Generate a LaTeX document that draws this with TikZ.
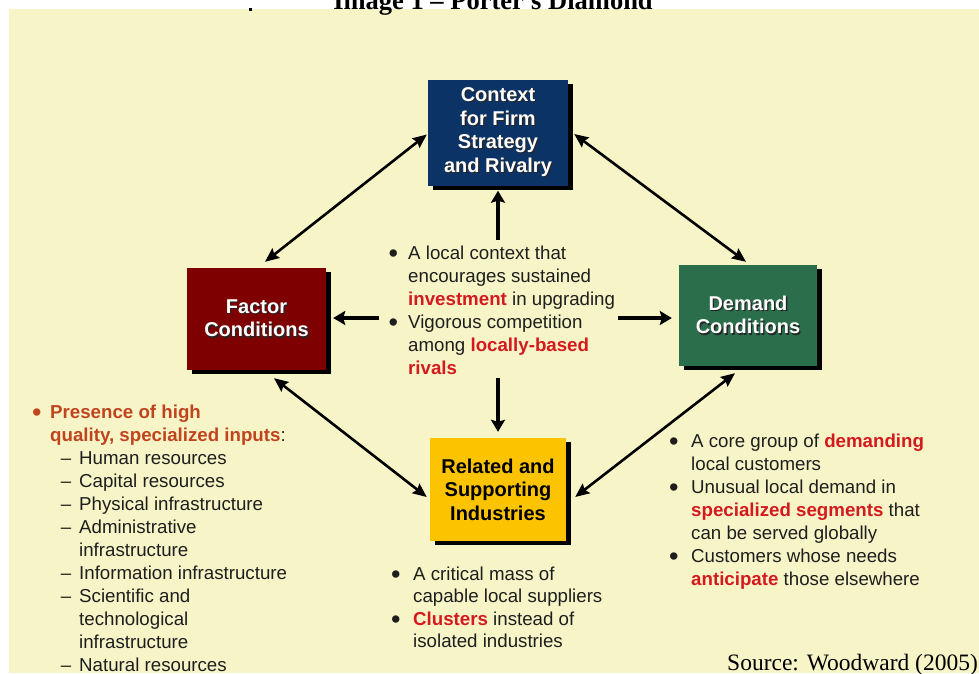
\documentclass[tikz,border=0pt]{standalone}
\usepackage{fontspec}
\setmainfont{Liberation Sans}
\newfontfamily\timesfont{Liberation Serif}
\usetikzlibrary{arrows.meta,shadows,calc}

\definecolor{paper}{HTML}{F7F5C7}
\definecolor{ctxblue}{HTML}{0C3366}
\definecolor{facred}{HTML}{7E0000}
\definecolor{demgreen}{HTML}{2A6E4C}
\definecolor{relyellow}{HTML}{FCC400}
\definecolor{hired}{HTML}{D41A1F}
\definecolor{orred}{HTML}{C0441E}
\definecolor{ink}{HTML}{1E1E1E}

% white label with a dark offset copy behind it
\newcommand\shd[1]{\leavevmode\rlap{\kern1.3pt\raisebox{-1.3pt}{\color{black!85}#1}}#1}
\newcommand\redb[1]{\textbf{\color{hired}#1}}
\newcommand\orb[1]{\textbf{\color{orred}#1}}
% a larger bullet hung to the left of the line
\newcommand\bigdot{\raisebox{-3.6pt}{\scalebox{1.45}{•}}}
\newcommand\bul[1]{\llap{\bigdot\hspace{#1}}}
\newcommand\subd{\hspace*{29pt}\llap{–\hspace{8pt}}}

\tikzset{
  box/.style={rectangle, inner sep=0pt, align=center,
    font=\fontsize{20}{23.5}\selectfont\bfseries,
    drop shadow={shadow xshift=5pt, shadow yshift=-4pt, fill=black, opacity=1}},
  txt/.style={anchor=north west, inner sep=0pt, align=left, text=ink,
    font=\fontsize{18.7}{23}\selectfont},
  arr/.style={line width=4pt, -{Stealth[length=12pt,width=14pt,inset=2pt]}},
  darr/.style={line width=2.6pt,
    {Stealth[length=14pt,width=12pt,inset=2pt]}-{Stealth[length=14pt,width=12pt,inset=2pt]}}
}

\begin{document}
\begin{tikzpicture}[x=1pt,y=-1pt]
\useasboundingbox (0,0) rectangle (979,673);
\fill[white] (0,0) rectangle (979,673);
\fill[paper] (9,9) rectangle (979,673);
\fill[black] (248.5,7.5) rectangle (251.5,10.5);

\node[font=\timesfont\bfseries\fontsize{26.5}{30}\selectfont, anchor=base, inner sep=0pt]
  (title) at (493,9) {Image 1 – Porter's Diamond};

% the four corners of the diamond
\node[box, fill=ctxblue, text=white, minimum width=140pt, minimum height=106pt]
  (ctx) at (498,132.5) {\shd{Context}\\\shd{for Firm}\\\shd{Strategy}\\\shd{and Rivalry}};
\node[box, fill=facred, text=white, minimum width=139pt, minimum height=102pt]
  (fac) at (256.5,319) {\shd{Factor}\\\shd{Conditions}};
\node[box, fill=demgreen, text=white, minimum width=138pt, minimum height=101pt]
  (dem) at (748,315.5) {\shd{Demand}\\\shd{Conditions}};
\node[box, fill=relyellow, text=black, minimum width=136pt, minimum height=103pt]
  (rel) at (498,489.5) {Related and\\Supporting\\Industries};

% bullet texts
\node[txt] (ctr) at (408,244) {\rule{0pt}{15pt}\bul{10pt}A local context that\\
  encourages sustained\\
  \redb{investment} in upgrading\\
  \bul{10pt}Vigorous competition\\
  among \redb{locally-based}\\
  \redb{rivals}};

\node[txt] (factxt) at (50,403) {\rule{0pt}{15pt}\llap{\color{orred}\bigdot\hspace{8.5pt}}\orb{Presence of high}\\
  \orb{quality, specialized inputs}:\\
  \subd Human resources\\
  \subd Capital resources\\
  \subd Physical infrastructure\\
  \subd Administrative\\
  \hspace*{29pt}infrastructure\\
  \subd Information infrastructure\\
  \subd Scientific and\\
  \hspace*{29pt}technological\\
  \hspace*{29pt}infrastructure\\
  \subd Natural resources};

\node[txt] (demtxt) at (691,432) {\rule{0pt}{15pt}\bul{12.5pt}A core group of \redb{demanding}\\
  local customers\\
  \bul{12.5pt}Unusual local demand in\\
  \redb{specialized segments} that\\
  can be served globally\\
  \bul{12.5pt}Customers whose needs\\
  \redb{anticipate} those elsewhere};

\node[txt, font=\fontsize{18.7}{22.5}\selectfont] (reltxt) at (413,565)
  {\rule{0pt}{15pt}\bul{12.5pt}A critical mass of\\
  capable local suppliers\\
  \bul{12.5pt}\redb{Clusters} instead of\\
  isolated industries};

\node[font=\timesfont\fontsize{23.5}{28}\selectfont, anchor=base west, inner sep=0pt]
  (src) at (727,670) {Source: Woodward (2005)};

% arrows from the centre text
\coordinate (ctrtop) at (498,240);
\coordinate (ctrbot) at (498,378);
\coordinate (ctrleft) at (379,318);
\coordinate (ctrright) at (618,318);
\coordinate (facE) at ([xshift=7pt]fac.east);
\coordinate (demW) at ([xshift=-7pt]dem.west);
\draw[arr] (ctrtop) -- ([yshift=-5pt]ctx.south);
\draw[arr] (ctrbot) -- ([yshift=6pt]rel.north);
\draw[arr] (ctrleft) -- (ctrleft -| facE);
\draw[arr] (ctrright) -- (ctrright -| demW);

% the diamond's sides
\draw[darr] ([xshift=-1pt,yshift=-2pt]ctx.west) -- ([xshift=8.5pt,yshift=6pt]fac.north);
\draw[darr] ([xshift=6pt,yshift=-1.5pt]ctx.east) -- ([xshift=-2pt,yshift=3pt]dem.north);
\draw[darr] ([xshift=17.5pt,yshift=-8pt]fac.south) -- ([xshift=-3pt,yshift=-7.5pt]rel.west);
\draw[darr] ([xshift=-13pt,yshift=-7pt]dem.south) -- ([xshift=9pt,yshift=-7.5pt]rel.east);
\end{tikzpicture}
\end{document}
